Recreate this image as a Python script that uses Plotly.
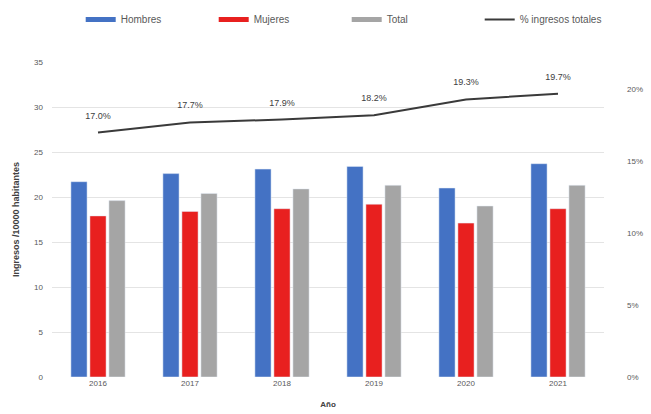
import plotly.graph_objects as go

years = ["2016", "2017", "2018", "2019", "2020", "2021"]
hombres = [21.7, 22.6, 23.1, 23.4, 21.0, 23.7]
mujeres = [17.9, 18.4, 18.7, 19.2, 17.1, 18.7]
total = [19.6, 20.4, 20.9, 21.3, 19.0, 21.3]
pct_ingresos = [0.170, 0.177, 0.179, 0.182, 0.193, 0.197]
pct_labels = ["17.0%", "17.7%", "17.9%", "18.2%", "19.3%", "19.7%"]

series = [("Hombres", hombres, "#4472C4"),
          ("Mujeres", mujeres, "#E8201F"),
          ("Total", total, "#A5A5A5")]

fig = go.Figure()
for name, vals, col in series:
    fig.add_trace(go.Bar(x=years, y=vals, name=name, marker_color=col, showlegend=False))
    # legend-only entry drawn as a thick short bar swatch
    fig.add_trace(go.Scatter(x=[None], y=[None], name=name, mode="lines",
                             line=dict(color=col, width=5)))
fig.add_trace(go.Scatter(
    x=years, y=pct_ingresos, name="% ingresos totales", yaxis="y2",
    mode="lines+text", text=[l + "<br> " for l in pct_labels], textposition="top center",
    textfont=dict(size=9, color="#404040"),
    line=dict(color="#3a3a3a", width=2),
))

tick_font = dict(size=8, color="#595959")
fig.update_layout(
    width=651, height=414,
    margin=dict(l=52, r=47, t=62, b=37, autoexpand=False),
    paper_bgcolor="white", plot_bgcolor="white",
    font=dict(family="Liberation Sans, Arial, sans-serif", size=8, color="#595959"),
    barmode="group", bargap=0.38, bargroupgap=0.15,
    showlegend=True,
    legend=dict(orientation="h", x=0.052, xanchor="left", y=1.135, yanchor="middle",
                font=dict(size=10, color="#595959"), itemwidth=30,
                traceorder="normal", entrywidthmode="pixels", entrywidth=88),
    xaxis=dict(showgrid=False, showline=False, ticks="", tickfont=tick_font,
               title=dict(text="<b>Año</b>", font=dict(size=8, color="#404040"), standoff=14)),
    yaxis=dict(range=[0, 35], dtick=5, showgrid=True, gridcolor="#E4E4E4", gridwidth=1,
               zeroline=False, showline=False, ticks="", ticklabelstandoff=8, tickfont=tick_font,
               title=dict(text="<b>Ingresos /10000 habitantes</b>", font=dict(size=9, color="#404040"), standoff=12)),
    yaxis2=dict(overlaying="y", side="right", range=[0, 0.219], dtick=0.05, tickformat=".0%",
                showgrid=False, zeroline=False, showline=False, ticks="", ticklabelstandoff=22,
                tickfont=tick_font),
)

fig.write_html("out.html")
